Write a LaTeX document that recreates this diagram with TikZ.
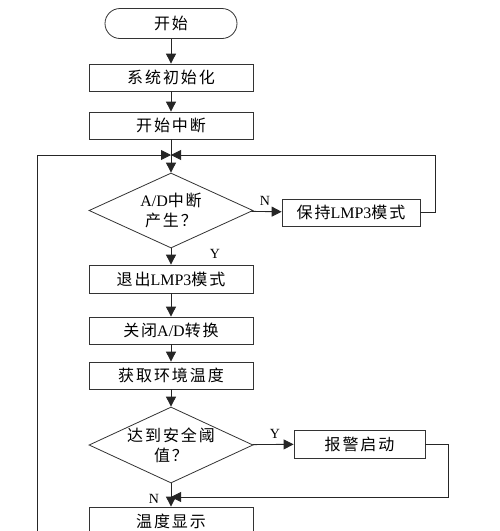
\documentclass[tikz,border=0pt]{standalone}
\usepackage{fontspec}
\setmainfont{Liberation Serif}
\newfontfamily\cjk[LetterSpace=12]{Noto Sans CJK SC}
\newcommand{\zh}[1]{{\cjk #1}}
\usetikzlibrary{shapes.geometric,arrows.meta}

\begin{document}
\begin{tikzpicture}[x=1pt,y=-1pt,
    font=\fontsize{16}{20}\selectfont,
    box/.style={draw=black!80,line width=0.8pt,minimum width=164pt,minimum height=27pt,inner sep=0pt},
    dec/.style={draw=black!80,line width=0.8pt,diamond,minimum width=164pt,minimum height=75pt,inner sep=0pt,
      label={[align=center]center:#1}},
    link/.style={draw=black!85,line width=0.9pt},
    flow/.style={link,-{Triangle[length=10pt,width=10pt]}},
    lbl/.style={font=\fontsize{14}{14}\selectfont}]
      \clip (0,0) rectangle (500,531);
      \fill[white] (0,0) rectangle (500,531);
      % main column
      \node[box,rounded corners=15pt,minimum width=132pt,minimum height=30pt] (st) at (171,23.5) {\zh{开始}};
      \node[box] (init) at (171,77.5) {\zh{系统初始化}};
      \node[box] (intr) at (171,125.5) {\zh{开始中断}};
      \coordinate (m) at (171,155);
      \node[dec={A/D\zh{中断}\\\zh{产生？}}] (d1) at (171,210.5) {};
        \node[box,minimum width=138pt] (keep) at (351,212.5) {\zh{保持}LMP3\zh{模式}};
      \node[box,minimum height=28pt] (exit) at (171,279) {\zh{退出}LMP3\zh{模式}};
      \node[box] (adoff) at (171,330.5) {\zh{关闭}A/D\zh{转换}};
      \node[box] (temp) at (171,375.5) {\zh{获取环境温度}};
      \node[dec={\zh{达到安全阈}\\\zh{值？}},minimum height=76pt] (d2) at (171,445) {};
        \node[box,minimum width=131pt,minimum height=28pt] (alarm) at (359.5,444) {\zh{报警启动}};
      \coordinate (m2) at (171,497);
      \node[box,minimum height=28pt] (show) at (171,521) {\zh{温度显示}};
      \coordinate (lp) at (37,545);
      % labels
      \node[lbl] (n1) at (265,201) {N};
      \node[lbl] (y1) at (215,254) {Y};
      \node[lbl] (y2) at (275,434) {Y};
      \node[lbl] (n2) at (154,499) {N};
      % connectors
      \draw[flow] (st) -- (init);
      \draw[flow] (init) -- (intr);
      \draw[link] (intr) -- (m);
      \draw[flow] (m) -- (d1);
      \draw[flow] (d1) -- (keep);
      \draw[flow] (keep.east) -- ++(15,0) |- (m);
      \draw[flow] (lp) |- (m);
      \draw[flow] (d1) -- (exit);
      \draw[flow] (exit) -- (adoff);
      \draw[flow] (adoff) -- (temp);
      \draw[flow] (temp) -- (d2);
      \draw[flow] (d2) -- (alarm);
      \draw[flow] (alarm.east) -- ++(23,0) |- (m2);
      \draw[flow] (d2) -- (show);
    \end{tikzpicture}
\end{document}
